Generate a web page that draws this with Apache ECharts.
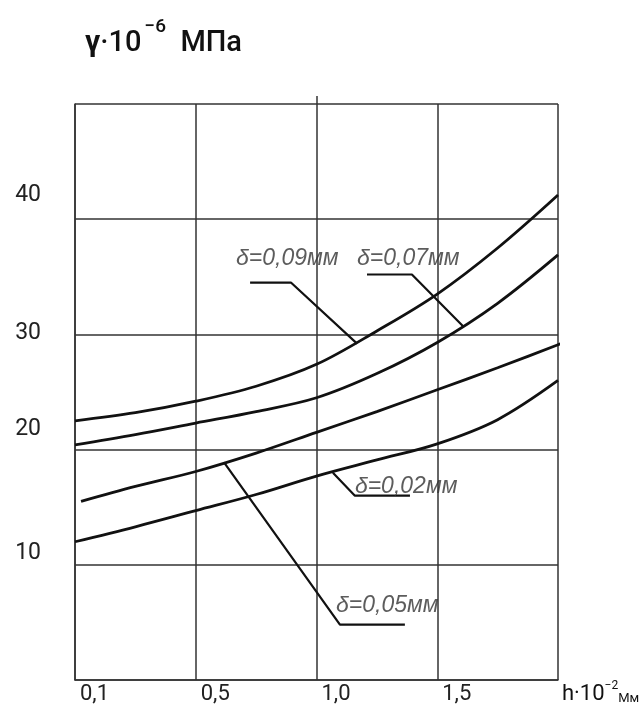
<!DOCTYPE html>
<html><head><meta charset="utf-8">
<script src="https://cdn.jsdelivr.net/npm/echarts@6/dist/echarts.min.js"></script>
<style>html,body{margin:0;padding:0;background:#fff}#c{width:643px;height:705px}</style>
</head><body><div id="c"></div>
<script>
// ---- data ----
const xPositions = [0, 0.25, 0.5, 0.75, 1.0, 1.25, 1.5, 1.75, 2.0];
const xTickValues = [0, 0.5, 1.0, 1.5];
const xTickLabels = ['0,1', '0,5', '1,0', '1,5'];
const yTickValues = [10, 20, 30, 40];
const yTickLabels = ['10', '20', '30', '40'];

const curve009 = [22.5, 23.2, 24.2, 25.5, 27.4, 30.3, 33.5, 37.5, 42.1];
const curve007 = [20.4, 21.3, 22.3, 23.3, 24.5, 26.6, 29.3, 32.7, 36.9];
const curve005x = [0.025, 0.25, 0.5, 0.75, 1.0, 1.25, 1.5, 1.75, 2.0, 2.025];
const curve005 = [15.5, 16.8, 18.1, 19.7, 21.5, 23.3, 25.2, 27.1, 29.1, 29.3];
const curve002 = [12.0, 13.3, 14.7, 16.1, 17.7, 19.1, 20.5, 22.6, 26.0];

const noteTexts = ['δ=0,09мм', 'δ=0,07мм', 'δ=0,05мм', 'δ=0,02мм'];
const notePoints = [[0.667, 36.6], [1.168, 36.6], [1.081, 6.5], [1.159, 16.75]];
const leader009 = [[0.725, 34.5], [0.894, 34.5], [1.168, 29.2]];
const leader007 = [[1.209, 35.2], [1.395, 35.2], [1.607, 30.7]];
const leader005 = [[0.617, 18.9], [1.097, 4.8], [1.366, 4.8]];
const leader002 = [[1.068, 18.0], [1.159, 16.0], [1.387, 16.0]];

const titleParts = ['γ', '·10', '−6', 'МПа'];
const xName = ['h·10', '−2', 'Мм'];

// ---- chart ----
const FONT = "'Roboto', 'DejaVu Sans', sans-serif";
const INK = '#111';
const GRIDC = '#333';

const zip = (xs, ys) => xs.map((x, i) => [x, ys[i]]);
const curveSeries = (data) => ({
  type: 'line', data, smooth: 0.35, symbol: 'none', clip: false, silent: true,
  lineStyle: { color: INK, width: 2.8 }, z: 5
});
const leaderSeries = (data) => ({
  type: 'line', data, smooth: false, symbol: 'none', clip: false, silent: true,
  lineStyle: { color: INK, width: 2.2 }, z: 4
});

const yOffsets = { 10: 24, 20: 40, 30: 2, 40: 48 };
const yRich = {};
yTickValues.forEach(v => {
  yRich['t' + v] = { fontFamily: FONT, fontSize: 23, color: '#222', padding: [0, 0, yOffsets[v], 0] };
});

const option = {
  animation: false,
  backgroundColor: '#fff',
  title: {
    left: 80, top: 13,
    text: '{g|' + titleParts[0] + '}{a|' + titleParts[1] + '}{s|' + titleParts[2] + '}{a|  ' + titleParts[3] + '}',
    textStyle: {
      fontWeight: 'normal',
      rich: {
        g: { fontFamily: FONT, fontSize: 30, fontWeight: 'bold', color: INK, lineHeight: 40, verticalAlign: 'bottom' },
        a: { fontFamily: FONT, fontSize: 29, fontWeight: 500, color: INK, lineHeight: 40, verticalAlign: 'bottom' },
        s: { fontFamily: FONT, fontSize: 19, fontWeight: 500, color: INK, lineHeight: 40, verticalAlign: 'top', padding: [0, 0, 0, 3] }
      }
    }
  },
  grid: { left: 75, right: 85, top: 104, bottom: 25, containLabel: false, outerBoundsMode: 'none' },
  xAxis: [{
    type: 'value', min: 0, max: 2, interval: 0.5,
    name: '{a|' + xName[0] + '}{s|' + xName[1] + '}{m|' + xName[2] + '}',
    nameLocation: 'end', nameGap: 4,
    nameTextStyle: {
      align: 'left', verticalAlign: 'top', padding: [0, 0, 0, 0],
      rich: {
        a: { fontFamily: FONT, fontSize: 22, color: INK, lineHeight: 25, verticalAlign: 'bottom' },
        s: { fontFamily: FONT, fontSize: 12, color: INK, lineHeight: 25, verticalAlign: 'top' },
        m: { fontFamily: FONT, fontSize: 13, color: INK, lineHeight: 25, verticalAlign: 'bottom' }
      }
    },
    axisLine: { show: true, lineStyle: { color: GRIDC, width: 1.5 } },
    axisTick: { show: false },
    axisLabel: {
      customValues: xTickValues,
      formatter: v => { const i = xTickValues.indexOf(v); return i >= 0 ? xTickLabels[i] : ''; },
      align: 'left', margin: 3, padding: [0, 0, 0, 5],
      fontFamily: FONT, fontSize: 22, color: '#222'
    },
    splitLine: { show: true, lineStyle: { color: GRIDC, width: 1.5 } }
  }, {
    type: 'value', min: 0, max: 2, position: 'top',
    axisLine: { show: false },
    axisTick: { show: true, customValues: [1], length: 8, inside: false, lineStyle: { color: GRIDC, width: 1.5 } },
    axisLabel: { show: false },
    splitLine: { show: false }
  }],
  yAxis: {
    type: 'value', min: 0, max: 50, interval: 10,
    axisLine: { show: true, lineStyle: { color: GRIDC, width: 1.5 } },
    axisTick: { show: false },
    axisLabel: {
      customValues: yTickValues,
      formatter: v => { const i = yTickValues.indexOf(v); return i >= 0 ? '{t' + v + '|' + yTickLabels[i] + '}' : ''; },
      margin: 34, rich: yRich
    },
    splitLine: { show: true, lineStyle: { color: GRIDC, width: 1.5 } }
  },
  series: [
    curveSeries(zip(xPositions, curve009)),
    curveSeries(zip(xPositions, curve007)),
    curveSeries(zip(curve005x, curve005)),
    curveSeries(zip(xPositions, curve002)),
    leaderSeries(leader009),
    leaderSeries(leader007),
    leaderSeries(leader005),
    leaderSeries(leader002),
    {
      type: 'scatter', symbolSize: 0, silent: true, clip: false, z: 6,
      data: notePoints.map((p, i) => ({ value: p, name: noteTexts[i] })),
      label: {
        show: true, position: 'right', distance: 0,
        formatter: p => p.name,
        fontFamily: "'Liberation Sans', Arial, sans-serif", fontStyle: 'italic',
        fontSize: 23, color: '#333'
      }
    }
  ]
};
echarts.init(document.getElementById('c'), null, { renderer: 'canvas' }).setOption(option);
</script>
</body></html>
